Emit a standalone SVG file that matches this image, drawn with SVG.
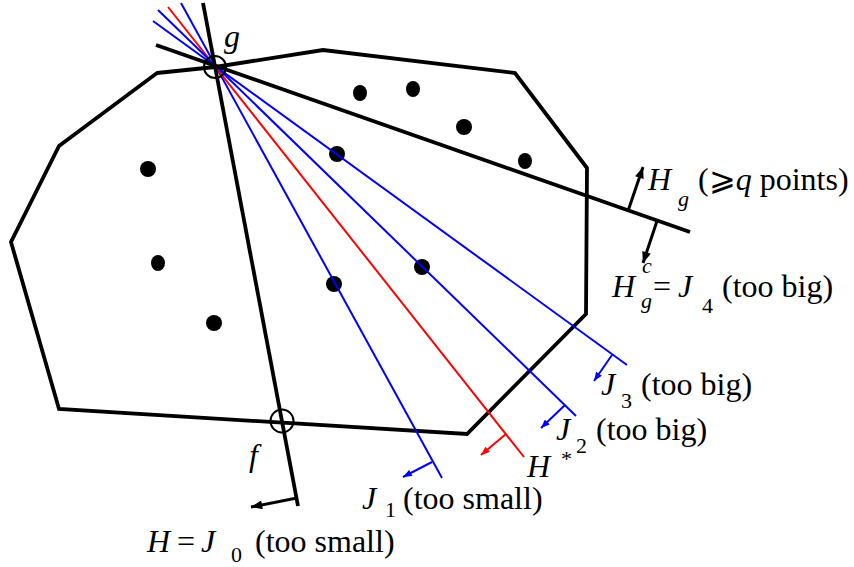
<svg xmlns="http://www.w3.org/2000/svg" width="854" height="567" viewBox="0 0 854 567">
<defs>
<style>
.poly{fill:none;stroke:#000;stroke-width:3.8;stroke-linejoin:miter}
.thick{stroke:#000;stroke-width:3.8;fill:none}
.blue{stroke:#0000ff;stroke-width:2;fill:none}
.red{stroke:#ff0000;stroke-width:2;fill:none}
.dot{fill:#000}
.ring{fill:none;stroke:#000;stroke-width:2}
text{font-family:"Liberation Serif","Times New Roman","DejaVu Serif",serif;font-size:32px;fill:#000}
.it{font-style:italic}
.sub{font-size:22px}
</style>
<marker id="ab" viewBox="0 0 10 8" refX="10" refY="4" markerWidth="11" markerHeight="7" markerUnits="userSpaceOnUse" orient="auto"><path d="M0,0 L10,4 L0,8 Z" fill="#0000ff"/></marker>
<marker id="ar" viewBox="0 0 10 8" refX="10" refY="4" markerWidth="11" markerHeight="7" markerUnits="userSpaceOnUse" orient="auto"><path d="M0,0 L10,4 L0,8 Z" fill="#ff0000"/></marker>
<marker id="ak" viewBox="0 0 10 8" refX="10" refY="4" markerWidth="14" markerHeight="9" markerUnits="userSpaceOnUse" orient="auto"><path d="M0,0 L10,4 L0,8 Z" fill="#000"/></marker>
</defs>
<g id="polygon">
<path class="poly" d="M157,73 L215,67 L323,50 L515,73 L587,168 L586,314 L467,434 L59,409 L11,242 L59,146 Z"/>
</g>
<g id="points">
<ellipse class="dot" cx="360" cy="93" rx="7" ry="8"/>
<ellipse class="dot" cx="413" cy="89" rx="7" ry="8"/>
<ellipse class="dot" cx="464" cy="127" rx="8" ry="8"/>
<ellipse class="dot" cx="525" cy="161" rx="7" ry="8"/>
<ellipse class="dot" cx="337" cy="154" rx="8" ry="8"/>
<ellipse class="dot" cx="148" cy="169" rx="8" ry="8"/>
<ellipse class="dot" cx="158" cy="263" rx="7" ry="8"/>
<ellipse class="dot" cx="422" cy="267" rx="8" ry="8"/>
<ellipse class="dot" cx="334" cy="284" rx="8" ry="8"/>
<ellipse class="dot" cx="214" cy="323" rx="8" ry="8"/>
</g>
<g id="connectors">
<line class="blue" x1="181" y1="3" x2="442" y2="478"/>
<line class="red" x1="168" y1="7" x2="524" y2="457"/>
<line class="blue" x1="158" y1="10" x2="576" y2="416"/>
<line class="blue" x1="153" y1="21" x2="627" y2="365"/>
<line class="thick" x1="156" y1="45" x2="690" y2="232"/>
<line class="thick" x1="203" y1="3" x2="298" y2="506"/>
<line class="blue" x1="612" y1="355" x2="594" y2="381" marker-end="url(#ab)"/>
<line class="blue" x1="565" y1="405" x2="541" y2="428" marker-end="url(#ab)"/>
<line class="red" x1="506" y1="434" x2="481" y2="455" marker-end="url(#ar)"/>
<line class="blue" x1="432" y1="462" x2="403" y2="477" marker-end="url(#ab)"/>
<line stroke="#000" stroke-width="3" x1="628" y1="211" x2="643" y2="167" marker-end="url(#ak)"/>
<line stroke="#000" stroke-width="3" x1="657" y1="221" x2="643" y2="263" marker-end="url(#ak)"/>
<line stroke="#000" stroke-width="3" x1="297" y1="498" x2="251" y2="507" marker-end="url(#ak)"/>
</g>
<g id="node-g">
<circle class="ring" cx="215" cy="67" r="11"/>
<text class="it" x="224" y="47">g</text>
</g>
<g id="node-f">
<circle class="ring" cx="282" cy="421" r="11.5"/>
<text class="it" x="249" y="466">f</text>
</g>
<g id="label-Hg">
<text class="it" x="648" y="190">H</text>
<text class="it sub" x="678" y="206">g</text>
<text x="698" y="190">(⩾<tspan class="it">q</tspan> points)</text>
</g>
<g id="label-Hgc">
<text class="it" x="612" y="297">H</text>
<text class="it sub" x="642" y="273">c</text>
<text class="it sub" x="641" y="308">g</text>
<text x="653" y="297">=</text>
<text class="it" x="678" y="297">J</text>
<text class="sub" x="702" y="313">4</text>
<text x="722" y="297">(too big)</text>
</g>
<g id="label-J3">
<text class="it" x="601" y="395">J</text>
<text class="sub" x="621" y="408">3</text>
<text x="641" y="395">(too big)</text>
</g>
<g id="label-J2">
<text class="it" x="556" y="440">J</text>
<text class="sub" x="576" y="453">2</text>
<text x="596" y="440">(too big)</text>
</g>
<g id="label-Hstar">
<text class="it" x="527" y="477">H</text>
<text class="sub" x="561" y="466">*</text>
</g>
<g id="label-J1">
<text class="it" x="362" y="509">J</text>
<text class="sub" x="385" y="517">1</text>
<text x="403" y="509">(too small)</text>
</g>
<g id="label-H">
<text class="it" x="147" y="552">H</text>
<text x="177" y="552">=</text>
<text class="it" x="201" y="552">J</text>
<text class="sub" x="231" y="562">0</text>
<text x="255" y="552">(too small)</text>
</g>
</svg>
